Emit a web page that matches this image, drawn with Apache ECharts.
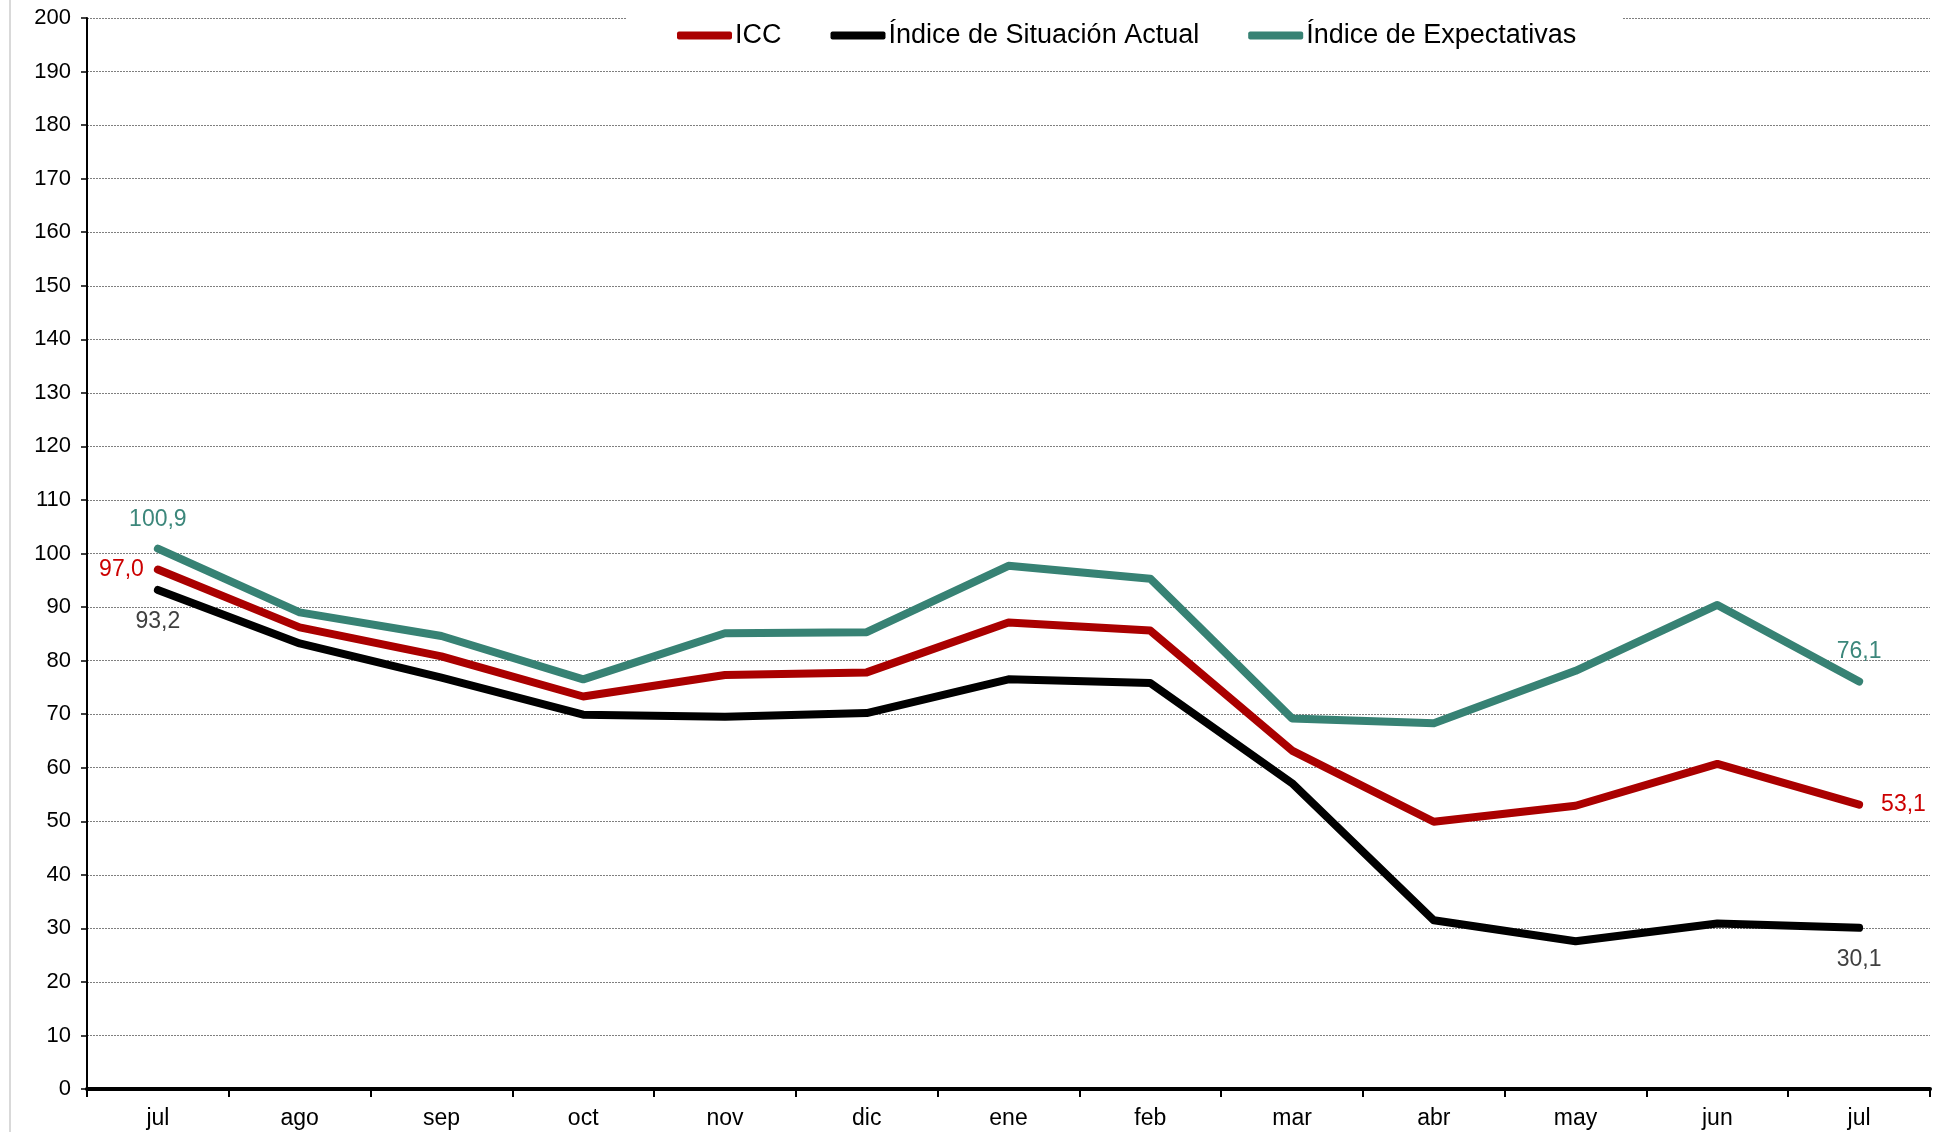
<!DOCTYPE html>
<html>
<head>
<meta charset="utf-8">
<script src="https://cdn.jsdelivr.net/npm/echarts@6/dist/echarts.min.js"></script>
<style>
  html, body { margin: 0; padding: 0; background: #fff; }
  #chart { width: 1955px; height: 1132px; }
</style>
</head>
<body>
<div id="chart"></div>
<script>
var months = ['jul', 'ago', 'sep', 'oct', 'nov', 'dic', 'ene', 'feb', 'mar', 'abr', 'may', 'jun', 'jul'];
var icc = [97.0, 86.2, 80.8, 73.3, 77.3, 77.8, 87.1, 85.6, 63.2, 49.9, 52.9, 60.7, 53.1];
var situacion = [93.2, 83.2, 76.8, 69.9, 69.5, 70.2, 76.5, 75.8, 57.1, 31.5, 27.6, 30.9, 30.1];
var expectativas = [100.9, 89.0, 84.6, 76.5, 85.1, 85.3, 97.7, 95.3, 69.2, 68.3, 78.1, 90.4, 76.1];
var seriesNames = ['ICC', 'Índice de Situación Actual', 'Índice de Expectativas'];

function fmt(v) {
    return v.toFixed(1).replace('.', ',');
}

// etiquetas solo en el primer y último punto
function withLabels(values, firstPos, lastPos, color, dist) {
    return values.map(function (v, i) {
        var edge = (i === 0 || i === values.length - 1);
        return {
            value: v,
            label: {
                show: edge,
                position: i === 0 ? firstPos : lastPos,
                distance: i === 0 ? dist[0] : dist[1],
                color: color,
                fontSize: 23,
                formatter: function (p) { return fmt(p.value); }
            }
        };
    });
}

var myChart = echarts.init(document.getElementById('chart'));

var lineBase = {
    type: 'line',
    symbol: 'circle',
    symbolSize: 0,
    showSymbol: true,
    animation: false
};

var option = {
    backgroundColor: '#fff',
    animation: false,
    textStyle: { fontFamily: 'Liberation Sans, Arial, sans-serif' },
    grid: { left: 87, right: 25, top: 18, bottom: 43 },
    legend: {
        left: 626,
        top: 0,
        padding: [22, 46, 20, 51],
        backgroundColor: '#fff',
        itemWidth: 55,
        itemHeight: 8,
        itemGap: 49,
        icon: 'roundRect',
        textStyle: { fontSize: 27, color: '#000', padding: [0, 0, 0, -2] },
        data: seriesNames
    },
    graphic: [{
        type: 'line',
        shape: { x1: 10, y1: 0, x2: 10, y2: 1132 },
        style: { stroke: '#d9d9d9', lineWidth: 2 }
    }],
    xAxis: {
        type: 'category',
        data: months,
        boundaryGap: true,
        axisLine: { lineStyle: { color: '#000', width: 4 } },
        axisTick: { show: true, length: 8, lineStyle: { color: '#000', width: 2 } },
        axisLabel: { fontSize: 23, color: '#000', margin: 18 }
    },
    yAxis: {
        type: 'value',
        min: 0,
        max: 200,
        interval: 10,
        axisLine: { show: true, lineStyle: { color: '#000', width: 2 } },
        axisTick: { show: true, length: 6, lineStyle: { color: '#000', width: 1.5 } },
        axisLabel: { fontSize: 22, color: '#000', margin: 16 },
        splitLine: { lineStyle: { color: '#7f7f7f', width: 1, type: [2, 1] } }
    },
    series: [
        Object.assign({}, lineBase, {
            name: seriesNames[0],
            data: withLabels(icc, 'left', 'right', '#cc0000', [14, 22]),
            itemStyle: { color: '#aa0000' },
            lineStyle: { color: '#aa0000', width: 8, cap: 'round', join: 'round' },
            z: 3
        }),
        Object.assign({}, lineBase, {
            name: seriesNames[1],
            data: withLabels(situacion, 'bottom', 'bottom', '#404040', [20, 20]),
            itemStyle: { color: '#000' },
            lineStyle: { color: '#000', width: 8, cap: 'round', join: 'round' },
            z: 2
        }),
        Object.assign({}, lineBase, {
            name: seriesNames[2],
            data: withLabels(expectativas, 'top', 'top', '#3c877b', [18, 18]),
            itemStyle: { color: '#378274' },
            lineStyle: { color: '#378274', width: 8, cap: 'round', join: 'round' },
            z: 4
        })
    ]
};

myChart.setOption(option);
</script>
</body>
</html>
